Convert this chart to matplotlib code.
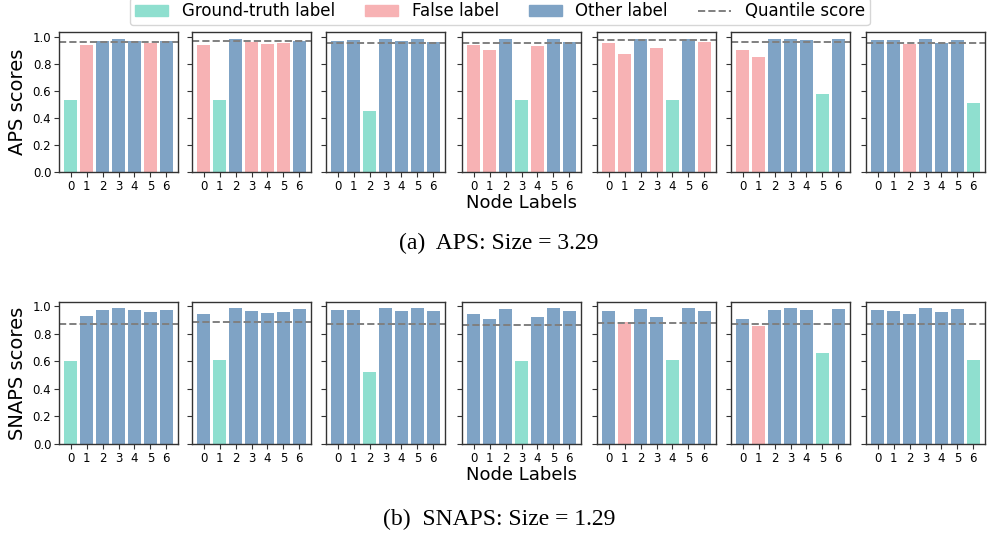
import matplotlib
matplotlib.use("Agg")
import matplotlib.pyplot as plt
from matplotlib.patches import Patch
from matplotlib.lines import Line2D

labels = [0, 1, 2, 3, 4, 5, 6]

aps_scores = [
    [0.536, 0.938, 0.973, 0.988, 0.973, 0.953, 0.973],
    [0.938, 0.531, 0.988, 0.960, 0.946, 0.953, 0.973],
    [0.973, 0.980, 0.454, 0.988, 0.973, 0.988, 0.965],
    [0.943, 0.906, 0.988, 0.536, 0.936, 0.988, 0.965],
    [0.958, 0.877, 0.988, 0.921, 0.536, 0.988, 0.965],
    [0.906, 0.854, 0.988, 0.988, 0.980, 0.580, 0.988],
    [0.980, 0.980, 0.946, 0.988, 0.958, 0.980, 0.514],
]
aps_quantile = [0.960, 0.970, 0.955, 0.958, 0.975, 0.963, 0.955]
# categories: 'g' ground truth, 'f' false, 'o' other
aps_types = [
    "gfooofo",
    "fgofffo",
    "oogoooo",
    "ffogfoo",
    "ffofgof",
    "ffooogo",
    "oofooog",
]

snaps_scores = [
    [0.599, 0.928, 0.969, 0.983, 0.969, 0.954, 0.969],
    [0.940, 0.606, 0.983, 0.961, 0.947, 0.954, 0.976],
    [0.969, 0.969, 0.519, 0.983, 0.961, 0.983, 0.961],
    [0.940, 0.903, 0.976, 0.599, 0.918, 0.983, 0.961],
    [0.961, 0.882, 0.976, 0.918, 0.606, 0.983, 0.961],
    [0.903, 0.853, 0.969, 0.983, 0.969, 0.657, 0.976],
    [0.969, 0.961, 0.940, 0.983, 0.954, 0.976, 0.606],
]
snaps_quantile = [0.872, 0.884, 0.870, 0.865, 0.879, 0.870, 0.870]
snaps_types = [
    "goooooo",
    "ogooooo",
    "oogoooo",
    "ooogooo",
    "ofoogoo",
    "ofooogo",
    "oooooog",
]

colors = {"g": "#8fdfcf", "f": "#f7b2b4", "o": "#7fa3c5"}
qcolor = "#808080"

W, H = 988, 533
fig = plt.figure(figsize=(W / 100, H / 100), dpi=100)

lefts = [59, 192, 326, 462, 597, 731, 866]
ax_w = 119


def draw_row(scores, quant, types, top_px, bot_px, ylabel, ytop):
    axes = []
    for i in range(7):
        ax = fig.add_axes([lefts[i] / W, 1 - bot_px / H, ax_w / W, (bot_px - top_px) / H])
        cols = [colors[c] for c in types[i]]
        ax.bar(labels, scores[i], width=0.8, color=cols)
        ax.axhline(quant[i], color=qcolor, linestyle="--", linewidth=1.4)
        ax.set_ylim(0, ytop)
        ax.set_xticks(labels)
        ax.set_xticklabels([str(l) for l in labels], fontsize=8.5)
        ax.set_yticks([0, 0.2, 0.4, 0.6, 0.8, 1.0])
        if i == 0:
            ax.set_yticklabels(["0.0", "0.2", "0.4", "0.6", "0.8", "1.0"], fontsize=8.5)
            ax.set_ylabel(ylabel, fontsize=14, labelpad=4)
        else:
            ax.set_yticklabels([])
        if i == 3:
            ax.set_xlabel("Node Labels", fontsize=13, labelpad=1)
        for s in ax.spines.values():
            s.set_color("#333333")
            s.set_linewidth(1.0)
        ax.tick_params(axis="both", length=3.5, width=0.8, color="#333333", pad=2)
        axes.append(ax)
    return axes


draw_row(aps_scores, aps_quantile, aps_types, 32, 172, "APS scores", 1.037)
draw_row(snaps_scores, snaps_quantile, snaps_types, 302, 444, "SNAPS scores", 1.029)

fig.text(0.505, 1 - 243 / H, "(a)  APS: Size = 3.29", ha="center", va="center",
         fontsize=17, family="Liberation Serif")
fig.text(0.505, 1 - 519 / H, "(b)  SNAPS: Size = 1.29", ha="center", va="center",
         fontsize=17, family="Liberation Serif")

handles = [
    Patch(color=colors["g"], label="Ground-truth label"),
    Patch(color=colors["f"], label="False label"),
    Patch(color=colors["o"], label="Other label"),
    Line2D([0], [0], color=qcolor, linestyle="--", linewidth=1.4, label="Quantile score"),
]
fig.legend(handles=handles, loc="upper center", bbox_to_anchor=(0.506, 1.005), ncol=4,
           fontsize=12, frameon=True, columnspacing=1.8, handlelength=2.0,
           borderpad=0.3, borderaxespad=0)

fig.savefig("out.png", dpi=100)
